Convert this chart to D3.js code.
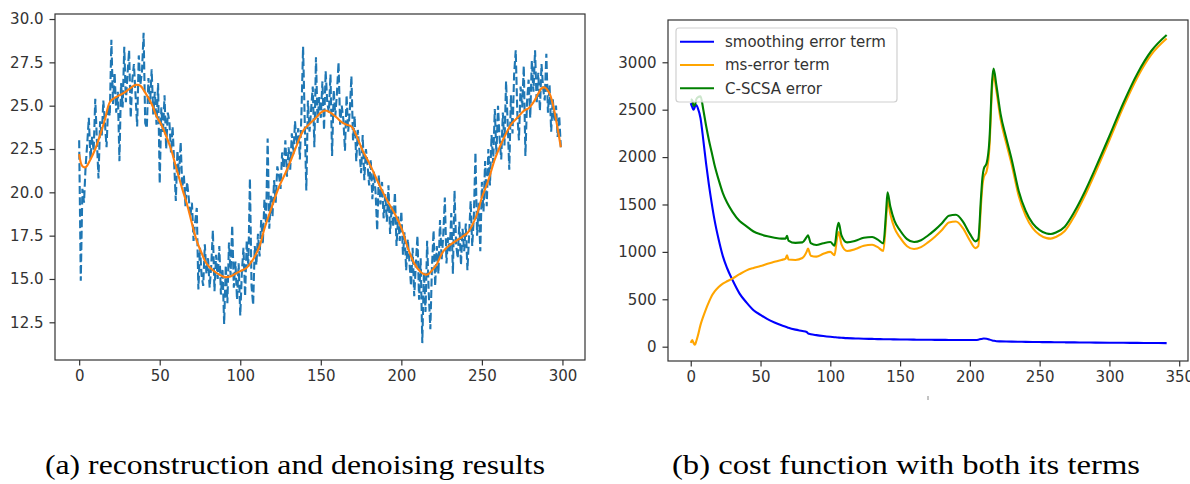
<!DOCTYPE html>
<html>
<head>
<meta charset="utf-8">
<script src="https://cdn.jsdelivr.net/npm/d3@7"></script>
<style>
  html, body { margin: 0; padding: 0; background: #fff; }
  svg { display: block; }
  .tick text { font-family: "DejaVu Sans", sans-serif; font-size: 15px; fill: #333; }
  .tick line { stroke: #333; stroke-width: 1.2; }
  .domain { display: none; }
</style>
</head>
<body>
<svg id="chart" width="1190" height="484"></svg>
<script>
// ---------------- Data: (a) reconstruction and denoising ----------------
const noisySignal = [
  23.0, 14.9, 20.2, 19.4, 21.5, 22.8, 24.3, 21.9, 23.2, 22.4,
  25.4, 23.0, 20.8, 24.1, 23.2, 25.3, 24.0, 22.6, 25.0, 24.4,
  28.8, 25.1, 26.9, 24.6, 25.8, 21.8, 26.3, 24.9, 28.4, 25.2,
  26.8, 28.2, 24.3, 26.5, 27.4, 25.6, 23.8, 27.9, 26.2, 27.0,
  29.2, 24.0, 23.7, 26.6, 25.1, 27.1, 24.5, 25.8, 23.9, 26.3,
  20.5, 24.9, 23.4, 25.6, 22.5, 24.6, 24.1, 22.3, 23.8, 21.6,
  19.5, 22.4, 21.0, 22.9, 20.3, 21.0, 19.2, 20.6, 19.7, 18.6,
  19.4, 17.2, 18.3, 19.1, 14.4, 16.8, 15.2, 14.6, 17.0, 15.3,
  16.2, 14.5, 15.8, 17.8, 14.3, 16.4, 15.0, 16.9, 14.1, 15.6,
  12.4, 15.8, 13.6, 17.1, 15.2, 18.1, 14.5, 16.0, 13.8, 15.9,
  12.9, 15.4, 16.8, 14.0, 17.2, 15.7, 20.8, 14.6, 13.5, 16.9,
  15.8, 17.6, 16.3, 18.4, 17.0, 19.6, 18.2, 23.1, 17.9, 19.8,
  18.6, 20.7, 19.4, 21.5, 21.0, 20.2, 22.3, 21.4, 23.0, 20.9,
  22.6, 21.3, 23.4, 22.2, 24.1, 22.8, 23.7, 21.9, 24.6, 28.4,
  24.2, 20.1, 25.3, 23.5, 24.8, 26.1, 22.6, 27.8, 24.0, 25.5,
  24.3, 26.4, 23.6, 27.0, 25.2, 24.6, 26.8, 22.1, 25.9, 24.4,
  25.7, 27.5, 23.9, 25.0, 24.2, 22.4, 25.6, 23.5, 24.7, 26.7,
  23.0, 24.4, 21.8, 23.6, 22.4, 21.1, 23.3, 20.7, 22.5, 21.6,
  20.4, 21.9, 19.6, 21.2, 20.0, 17.8, 21.0, 19.3, 20.6, 18.5,
  19.9, 18.3, 20.4, 17.6, 19.2, 18.0, 20.0, 16.9, 18.6, 17.2,
  18.9, 16.4, 17.7, 15.5, 17.3, 16.0, 14.6, 16.8, 14.0, 15.9,
  17.5, 13.8, 16.2, 11.3, 15.4, 13.1, 17.2, 14.2, 12.1, 15.7,
  17.8, 14.6, 16.9, 15.3, 18.4, 16.1, 17.5, 19.7, 15.9, 17.4,
  16.5, 18.8, 15.3, 20.1, 17.0, 16.2, 18.3, 15.8, 17.9, 16.6,
  18.2, 15.5, 17.4, 19.5, 16.9, 18.6, 22.3, 17.5, 19.4, 16.6,
  20.6, 18.9, 21.8, 19.2, 22.5, 20.4, 23.3, 21.7, 24.8, 22.2,
  25.0, 23.1, 21.9, 24.6, 22.7, 26.4, 24.0, 21.3, 25.6, 23.4,
  26.8, 28.2, 24.5, 23.0, 26.1, 24.9, 27.3, 22.1, 25.2, 26.5,
  24.3, 27.6, 25.8, 28.2, 25.1, 26.9, 24.7, 27.4, 26.0, 25.3,
  28.0, 24.6, 26.2, 23.5, 25.4, 24.1, 25.0, 23.2, 24.4, 22.6
];
const smoothIdx = [0, 2, 4, 7, 10, 13, 16, 19, 22, 25, 28, 31, 35, 38, 41, 45, 48, 51, 54, 57, 60, 64, 67, 70, 73, 76, 79, 83, 87, 90, 94, 97, 100, 104, 107, 109, 112, 115, 119, 124, 128, 131, 135, 139, 143, 147, 150, 153, 156, 160, 163, 166, 169, 172, 176, 180, 184, 188, 192, 196, 200, 204, 208, 212, 215, 217, 220, 222, 226, 230, 234, 238, 241, 244, 247, 250, 254, 258, 261, 265, 268, 272, 276, 279, 282, 285, 287, 289, 292, 294, 296, 299];
const smoothVal = [22.2, 21.5, 21.45, 21.9, 22.5, 23.3, 24.2, 25.2, 25.45, 25.6, 25.75, 25.95, 26.2, 26.15, 25.75, 25.1, 24.4, 23.9, 23.25, 22.5, 21.5, 20.2, 19.3, 18.2, 17.2, 16.5, 15.9, 15.5, 15.25, 15.12, 15.15, 15.3, 15.45, 15.65, 16.0, 16.3, 16.9, 17.9, 19.0, 20.3, 21.1, 21.75, 22.7, 23.55, 23.95, 24.3, 24.6, 24.72, 24.6, 24.3, 24.05, 23.9, 23.8, 23.3, 22.4, 21.7, 20.9, 20.1, 19.4, 18.75, 17.95, 16.8, 15.9, 15.4, 15.25, 15.3, 15.6, 15.85, 16.6, 16.95, 17.2, 17.45, 17.65, 18.1, 18.75, 19.7, 20.7, 21.9, 22.6, 23.4, 23.9, 24.3, 24.7, 24.85, 25.2, 25.7, 26.0, 26.05, 25.7, 25.1, 24.2, 22.6];
const xTicksA = [0, 50, 100, 150, 200, 250, 300];
const yTicksA = [12.5, 15.0, 17.5, 20.0, 22.5, 25.0, 27.5, 30.0];

// ---------------- Data: (b) cost function ----------------
const iterations = [0, 1, 2, 3, 4, 5, 7, 9, 11, 13, 15, 17, 20, 23, 26, 30, 35, 40, 45, 50, 55, 60, 65, 68, 69, 70, 75, 80, 83, 84, 86, 90, 95, 100, 103, 105, 106, 108, 112, 118, 124, 130, 134, 138, 140, 141, 143, 146, 150, 155, 160, 165, 170, 175, 180, 185, 190, 195, 200, 204, 206, 208, 209, 210, 212, 214, 216, 217, 219, 222, 226, 230, 235, 240, 245, 250, 255, 258, 262, 268, 275, 282, 290, 300, 310, 320, 330, 341];
const smoothingError = [2570, 2530, 2500, 2530, 2550, 2520, 2410, 2180, 1930, 1710, 1515, 1340, 1130, 955, 830, 700, 560, 465, 385, 335, 290, 255, 225, 210, 205, 200, 180, 165, 155, 140, 132, 122, 112, 104, 100, 97, 96, 94, 90, 87, 84, 82, 80, 79, 78, 78, 78, 77, 76, 75, 74, 73, 73, 72, 72, 71, 71, 70, 70, 71, 74, 80, 84, 86, 84, 75, 66, 63, 58, 56, 54, 53, 52, 51, 50, 49, 48, 48, 47, 46, 45, 44, 43, 42, 41, 40, 39, 38];
const msError = [40, 70, 40, 20, 60, 110, 230, 320, 400, 470, 535, 580, 630, 665, 690, 720, 765, 805, 830, 850, 875, 895, 915, 930, 965, 920, 915, 935, 1000, 1035, 960, 950, 980, 1000, 965, 1160, 1210, 1080, 1010, 1030, 1065, 1075, 1050, 1010, 1350, 1550, 1400, 1250, 1150, 1060, 1030, 1050, 1100, 1160, 1230, 1310, 1320, 1250, 1120, 1040, 1060, 1500, 1700, 1790, 1850, 2100, 2750, 2870, 2700, 2400, 2150, 1920, 1590, 1380, 1250, 1180, 1145, 1140, 1160, 1220, 1380, 1580, 1840, 2180, 2530, 2840, 3080, 3250];
const cscsaError = [2610, 2600, 2540, 2550, 2610, 2630, 2640, 2500, 2330, 2180, 2050, 1920, 1760, 1620, 1520, 1420, 1325, 1270, 1215, 1185, 1165, 1150, 1140, 1140, 1170, 1120, 1095, 1100, 1155, 1175, 1092, 1072, 1092, 1104, 1065, 1257, 1306, 1174, 1100, 1117, 1149, 1157, 1130, 1089, 1428, 1628, 1478, 1327, 1226, 1135, 1104, 1123, 1173, 1232, 1302, 1381, 1391, 1320, 1190, 1111, 1134, 1580, 1784, 1876, 1934, 2175, 2816, 2933, 2758, 2456, 2204, 1973, 1642, 1431, 1300, 1229, 1193, 1188, 1207, 1266, 1425, 1624, 1883, 2222, 2571, 2880, 3119, 3288];
const xTicksB = [0, 50, 100, 150, 200, 250, 300, 350];
const yTicksB = [0, 500, 1000, 1500, 2000, 2500, 3000];
const legendLabels = ["smoothing error term", "ms-error term", "C-SCSA error"];
const captions = ["(a) reconstruction and denoising results", "(b) cost function with both its terms"];

// ---------------- Drawing ----------------
const svg = d3.select("#chart");
const defs = svg.append("defs");

function frame(g, x0, y0, x1, y1) {
  g.append("rect").attr("x", x0).attr("y", y0).attr("width", x1 - x0).attr("height", y1 - y0)
    .attr("fill", "none").attr("stroke", "#333").attr("stroke-width", 1.2);
}
function styleAxis(sel) {
  sel.selectAll(".tick line").attr("stroke", "#333").attr("stroke-width", 1.2);
}

// ---- Chart (a)
const A = { l: 55, r: 585, t: 14, b: 360 };
const xA = d3.scaleLinear().domain([-15, 314]).range([A.l, A.r]);
const yA = d3.scaleLinear().domain([10.325, 30.29]).range([A.b, A.t]);
defs.append("clipPath").attr("id", "clipA").append("rect")
  .attr("x", A.l).attr("y", A.t).attr("width", A.r - A.l).attr("height", A.b - A.t);
const gA = svg.append("g");
gA.append("path")
  .datum(noisySignal)
  .attr("clip-path", "url(#clipA)")
  .attr("fill", "none").attr("stroke", "#1f77b4").attr("stroke-width", 2.1)
  .attr("stroke-dasharray", "8,3.4")
  .attr("d", d3.line().x((d, i) => xA(i)).y(d => yA(d)));
gA.append("path")
  .datum(smoothIdx.map((d, i) => [d, smoothVal[i]]))
  .attr("clip-path", "url(#clipA)")
  .attr("fill", "none").attr("stroke", "#ff7f0e").attr("stroke-width", 2.1)
  .attr("d", d3.line().curve(d3.curveCatmullRom).x(d => xA(d[0])).y(d => yA(d[1])));
gA.append("g").attr("transform", `translate(0,${A.b})`)
  .call(d3.axisBottom(xA).tickValues(xTicksA).tickFormat(d3.format("d")).tickSize(5.5).tickPadding(5))
  .call(styleAxis);
gA.append("g").attr("transform", `translate(${A.l},0)`)
  .call(d3.axisLeft(yA).tickValues(yTicksA).tickFormat(d3.format(".1f")).tickSize(5.5).tickPadding(6))
  .call(styleAxis);
frame(gA, A.l, A.t, A.r, A.b);

// ---- Chart (b)
const B = { l: 668, r: 1188, t: 20, b: 361 };
const xB = d3.scaleLinear().domain([-16.3, 356.3]).range([B.l, B.r]);
const yB = d3.scaleLinear().domain([-151, 3446]).range([B.b, B.t]);
defs.append("clipPath").attr("id", "clipB").append("rect")
  .attr("x", B.l).attr("y", B.t).attr("width", B.r - B.l).attr("height", B.b - B.t);
const gB = svg.append("g");
const seriesB = [
  { vals: smoothingError, color: "#0000ff" },
  { vals: msError, color: "#ffa500" },
  { vals: cscsaError, color: "#008000" }
];
const lineB = d3.line().curve(d3.curveMonotoneX).x(d => xB(d[0])).y(d => yB(d[1]));
seriesB.forEach(s => {
  gB.append("path")
    .datum(iterations.map((d, i) => [d, s.vals[i]]))
    .attr("clip-path", "url(#clipB)")
    .attr("fill", "none").attr("stroke", s.color).attr("stroke-width", 2.1)
    .attr("stroke-linejoin", "round")
    .attr("d", lineB);
});
gB.append("g").attr("transform", `translate(0,${B.b})`)
  .call(d3.axisBottom(xB).tickValues(xTicksB).tickFormat(d3.format("d")).tickSize(5.5).tickPadding(5))
  .call(styleAxis);
gB.append("g").attr("transform", `translate(${B.l},0)`)
  .call(d3.axisLeft(yB).tickValues(yTicksB).tickFormat(d3.format("d")).tickSize(5.5).tickPadding(6))
  .call(styleAxis);
frame(gB, B.l, B.t, B.r, B.b);

// small stray mark under axis (b)
gB.append("line").attr("x1", 928).attr("x2", 928).attr("y1", 396).attr("y2", 400)
  .attr("stroke", "#888").attr("stroke-width", 1);

// Legend
const leg = gB.append("g");
leg.append("rect").attr("x", 676).attr("y", 28).attr("width", 221).attr("height", 74)
  .attr("rx", 3).attr("fill", "#fff").attr("fill-opacity", 0.8)
  .attr("stroke", "#d0d0d0").attr("stroke-width", 1.2);
legendLabels.forEach((lab, i) => {
  const y = 41.7 + i * 23.3;
  leg.append("line").attr("x1", 680).attr("x2", 714).attr("y1", y).attr("y2", y)
    .attr("stroke", seriesB[i].color).attr("stroke-width", 2.1);
  leg.append("text").attr("x", 725).attr("y", y + 5.3)
    .attr("font-family", "DejaVu Sans, sans-serif").attr("font-size", 15).attr("fill", "#333")
    .text(lab);
});

// Captions
const capX = [45, 672], capW = [500, 468];
captions.forEach((c, i) => {
  svg.append("text").attr("x", capX[i]).attr("y", 474)
    .attr("font-family", "Liberation Serif, serif").attr("font-size", 27).attr("fill", "#000")
    .attr("textLength", capW[i]).attr("lengthAdjust", "spacingAndGlyphs")
    .text(c);
});
</script>
</body>
</html>
